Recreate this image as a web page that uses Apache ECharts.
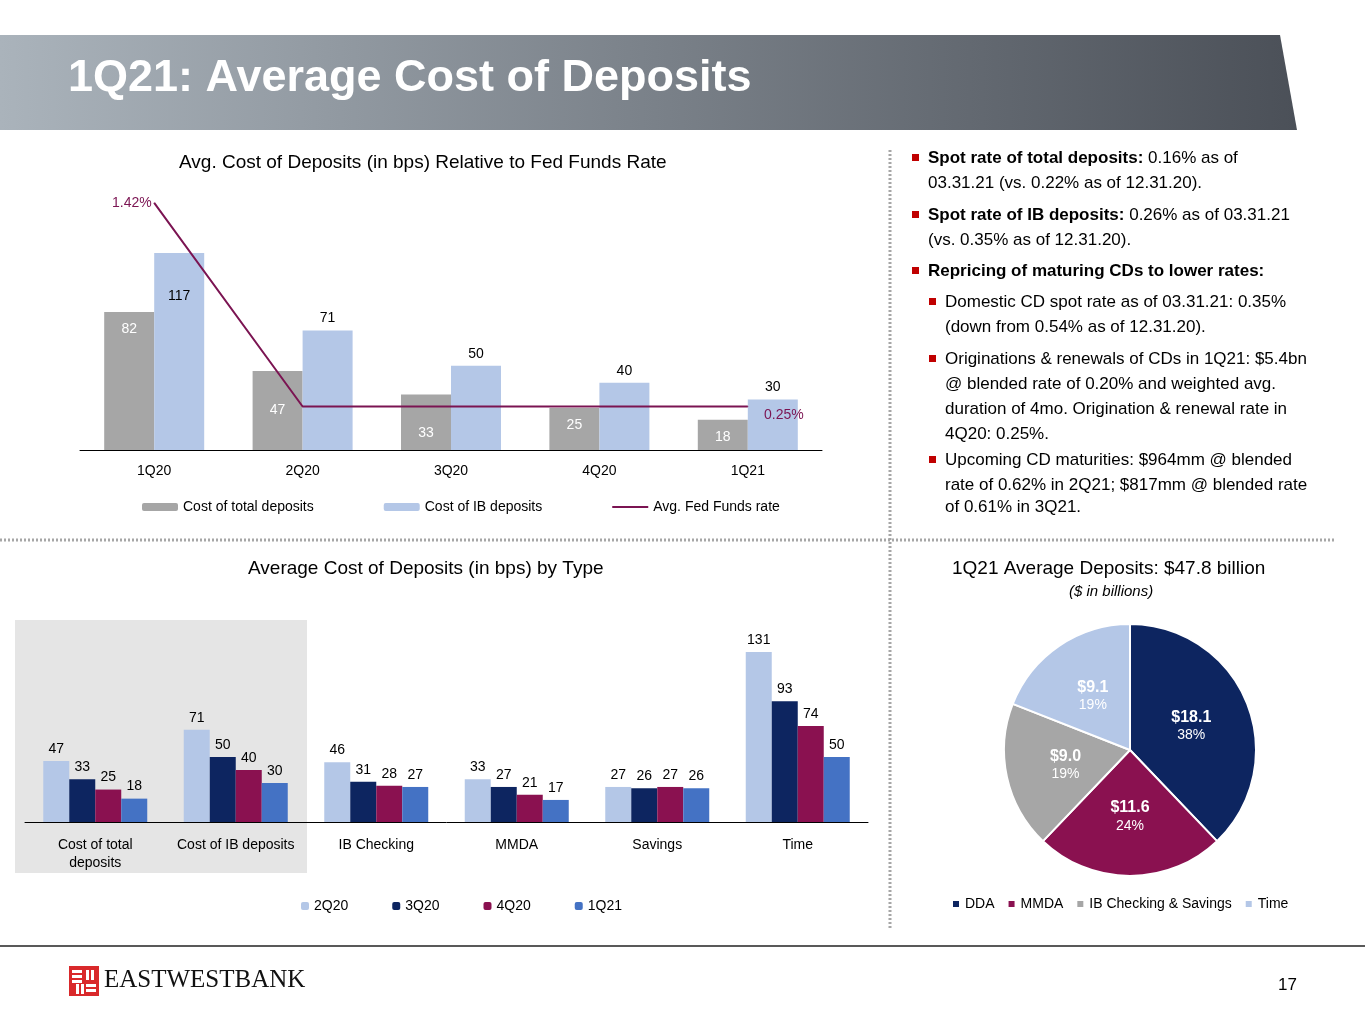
<!DOCTYPE html>
<html><head><meta charset="utf-8">
<script src="https://cdn.jsdelivr.net/npm/echarts@6/dist/echarts.min.js"></script>
<style>html,body{margin:0;padding:0;background:#fff}#c{width:1365px;height:1024px}</style>
</head><body><div id="c"></div>
<script>
const quarters1 = ['1Q20','2Q20','3Q20','4Q20','1Q21'];
const costTotal = [82,47,33,25,18];
const costIB = [117,71,50,40,30];
const fedFunds = [1.42,0.25,0.25,0.25,0.25];

const types = ['Cost of total\ndeposits','Cost of IB deposits','IB Checking','MMDA','Savings','Time'];
const q2Q20 = [47,71,46,33,27,131];
const q3Q20 = [33,50,31,27,26,93];
const q4Q20 = [25,40,28,21,27,74];
const q1Q21 = [18,30,27,17,26,50];

const pieNames = ['DDA','MMDA','IB Checking & Savings','Time'];
const pieValues = [18.1,11.6,9.0,9.1];
const piePct = ['38%','24%','19%','19%'];

const F = 'Liberation Sans, Arial, sans-serif';
const chart = echarts.init(document.getElementById('c'));
const lbl = (c, pos) => ({show:true, position:pos||'top', color:c||'#000', fontSize:14, fontFamily:F});

const bullets = [
 [158,1,'Spot rate of total deposits:',' 0.16% as of',0],
 [183,0,'03.31.21 (vs. 0.22% as of 12.31.20).','',0],
 [215,1,'Spot rate of IB deposits:',' 0.26% as of 03.31.21',0],
 [240,0,'(vs. 0.35% as of 12.31.20).','',0],
 [271,1,'Repricing of maturing CDs to lower rates:','',0],
 [302,1,'Domestic CD spot rate as of 03.31.21: 0.35%','',1],
 [327,0,'(down from 0.54% as of 12.31.20).','',1],
 [359,1,'Originations & renewals of CDs in 1Q21: $5.4bn','',1],
 [384,0,'@ blended rate of 0.20% and weighted avg.','',1],
 [409,0,'duration of 4mo. Origination & renewal rate in','',1],
 [434,0,'4Q20: 0.25%.','',1],
 [460,1,'Upcoming CD maturities: $964mm @ blended','',1],
 [485,0,'rate of 0.62% in 2Q21; $817mm @ blended rate','',1],
 [507,0,'of 0.61% in 3Q21.','',1]
];
const bulletGraphics = [];
bullets.forEach(b=>{
  const [y,bul,main,rest,lvl] = b;
  const bx = lvl ? 929 : 912;
  const tx = lvl ? 945 : 928;
  if (bul) bulletGraphics.push({type:'rect', shape:{x:bx,y:y-4,width:7,height:7}, style:{fill:'#c00000'}});
  if (!lvl && bul) {
    bulletGraphics.push({type:'text', x:tx, y:y, style:{text:'{b|'+main+'}{n|'+rest+'}', verticalAlign:'middle', rich:{b:{fontWeight:'bold',fontSize:17,fontFamily:F,fill:'#000'},n:{fontSize:17,fontFamily:F,fill:'#000'}}}});
  } else {
    bulletGraphics.push({type:'text', x:tx, y:y, style:{text:main, verticalAlign:'middle', fontSize:17, fontFamily:F, fill:'#000'}});
  }
});
const logo = [{type:'rect', shape:{x:69,y:966,width:30,height:30}, style:{fill:'#d9292b'}}];
[[72,970,10,3],[72,975,10,3],[72,980,10,3],[86,970,3,10],[91,970,3,10],[81,984,3,10],[76,984,3,10],[86,984,10,3],[86,989,10,3]].forEach(r=>logo.push({type:'rect', shape:{x:r[0],y:r[1],width:r[2],height:r[3]}, style:{fill:'#fff'}}));

const opt = {
  animation:false,
  textStyle:{fontFamily:F},
  graphic:[
    {type:'polygon', shape:{points:[[0,35],[1280,35],[1297,130],[0,130]]},
     style:{fill:new echarts.graphic.LinearGradient(0,0,1,0,[{offset:0,color:'#aab3bb'},{offset:1,color:'#4b5058'}])}},
    {type:'text', x:68, y:56, style:{text:'1Q21: Average Cost of Deposits', fill:'#fff', fontSize:45, fontWeight:'bold', fontFamily:F}},
    {type:'text', x:179, y:153, style:{text:'Avg. Cost of Deposits (in bps) Relative to Fed Funds Rate', fill:'#000', fontSize:19, fontFamily:F}},
    {type:'text', x:248, y:559, style:{text:'Average Cost of Deposits (in bps) by Type', fill:'#000', fontSize:19, fontFamily:F}},
    {type:'text', x:952, y:559, style:{text:'1Q21 Average Deposits: $47.8 billion', fill:'#000', fontSize:19, fontFamily:F}},
    {type:'text', x:1069, y:584, style:{text:'($ in billions)', fill:'#000', fontSize:15, fontStyle:'italic', fontFamily:F}},
    {type:'line', shape:{x1:0,y1:540,x2:1335,y2:540}, style:{stroke:'#a6a6a6', lineWidth:3, lineDash:[2,2]}},
    {type:'line', shape:{x1:890,y1:150,x2:890,y2:930}, style:{stroke:'#a6a6a6', lineWidth:3, lineDash:[2,2]}},
    {type:'line', shape:{x1:0,y1:946,x2:1365,y2:946}, style:{stroke:'#595959', lineWidth:2}},
    {type:'rect', shape:{x:15,y:620,width:292,height:253}, style:{fill:'#e5e5e5'}, z:-10},
    {type:'text', x:1278, y:977, style:{text:'17', fill:'#000', fontSize:17, fontFamily:F}},
    ...logo,
    {type:'text', x:104, y:968, style:{text:'EASTWESTBANK', fill:'#111', fontSize:25, fontFamily:'Liberation Serif, serif'}},
    ...bulletGraphics
  ],
  legend:[
    {data:['Cost of total deposits','Cost of IB deposits',{name:'Avg. Fed Funds rate', icon:'path://M0,0L36,0L36,2L0,2Z'}], left:137, top:495, itemGap:70, itemWidth:36, itemHeight:8, textStyle:{fontSize:14,color:'#000'}},
    {data:['2Q20','3Q20','4Q20','1Q21'], left:296, top:894, itemGap:44, itemWidth:8, itemHeight:8, textStyle:{fontSize:14,color:'#000'}},
    {data:pieNames, left:946, top:892, itemGap:12, itemWidth:8, itemHeight:8, icon:'rect', textStyle:{fontSize:14,color:'#000'}}
  ],
  grid:[
    {left:80, width:742, top:200, height:250},
    {left:25, width:843, top:602, height:220}
  ],
  xAxis:[
    {type:'category', gridIndex:0, data:quarters1, axisTick:{show:false}, axisLine:{lineStyle:{color:'#000'}}, axisLabel:{color:'#000',fontSize:14,margin:14}},
    {type:'category', gridIndex:1, data:types, axisTick:{show:false}, axisLine:{lineStyle:{color:'#000'}}, axisLabel:{interval:0,color:'#000',fontSize:14,margin:14,lineHeight:18}}
  ],
  yAxis:[
    {type:'value', gridIndex:0, min:0, max:148.5, show:false},
    {type:'value', gridIndex:0, min:0, max:1.437, show:false},
    {type:'value', gridIndex:1, min:0, max:169.5, show:false}
  ],
  series:[
    {name:'Cost of total deposits', type:'bar', xAxisIndex:0, yAxisIndex:0, data:costTotal, barWidth:50, barGap:'0%', itemStyle:{color:'#a6a6a6'},
      label:{show:true, position:'insideTop', distance:10, color:'#fff', fontSize:14},
      labelLayout:p=> p.dataIndex===1 ? {dy:22} : p.dataIndex===2 ? {dy:22} : {}},
    {name:'Cost of IB deposits', type:'bar', xAxisIndex:0, yAxisIndex:0, data:costIB.map((v,i)=> i===0 ? {value:v, label:{position:'insideTop', distance:36}} : v), barWidth:50, itemStyle:{color:'#b4c7e7'},
      label:{show:true, fontSize:14, color:'#000', position:'top'}},
    {name:'Avg. Fed Funds rate', type:'line', xAxisIndex:0, yAxisIndex:1,
      data:fedFunds.map((v,i)=> i===0 ? {value:v, label:{show:true, position:'left', distance:2}} : i===4 ? {value:v, label:{show:true, position:'bottom', offset:[36,0], distance:1}} : v),
      symbol:'circle', symbolSize:1, showSymbol:true, lineStyle:{color:'#7b1452',width:2}, itemStyle:{color:'#7b1452'},
      label:{show:false, color:'#7b1452', fontSize:14, formatter:p=> p.value.toFixed(2)+'%'}},
    {name:'2Q20', type:'bar', xAxisIndex:1, yAxisIndex:2, data:q2Q20, barWidth:26, barGap:'0%', itemStyle:{color:'#b4c7e7'}, label:lbl('#000')},
    {name:'3Q20', type:'bar', xAxisIndex:1, yAxisIndex:2, data:q3Q20, barWidth:26, itemStyle:{color:'#0d2560'}, label:lbl('#000')},
    {name:'4Q20', type:'bar', xAxisIndex:1, yAxisIndex:2, data:q4Q20, barWidth:26, itemStyle:{color:'#8a1150'}, label:lbl('#000')},
    {name:'1Q21', type:'bar', xAxisIndex:1, yAxisIndex:2, data:q1Q21, barWidth:26, itemStyle:{color:'#4472c4'}, label:lbl('#000')},
    {type:'pie', center:[1130,750], radius:[0,126], startAngle:90, clockwise:true,
      data:pieNames.map((n,i)=>({name:n, value:pieValues[i], pct:piePct[i]})),
      color:['#0d2560','#8a1150','#a6a6a6','#b4c7e7'],
      itemStyle:{borderColor:'#fff', borderWidth:2},
      label:{position:'inside', formatter:p=>'{a|$'+p.value.toFixed(1)+'}\n{b|'+p.data.pct+'}', rich:{a:{fontSize:16,fontWeight:'bold',color:'#fff',fontFamily:F,lineHeight:20},b:{fontSize:14,color:'#fff',fontFamily:F,lineHeight:16}}},
      labelLine:{show:false}}
  ]
};
chart.setOption(opt);
</script></body></html>
